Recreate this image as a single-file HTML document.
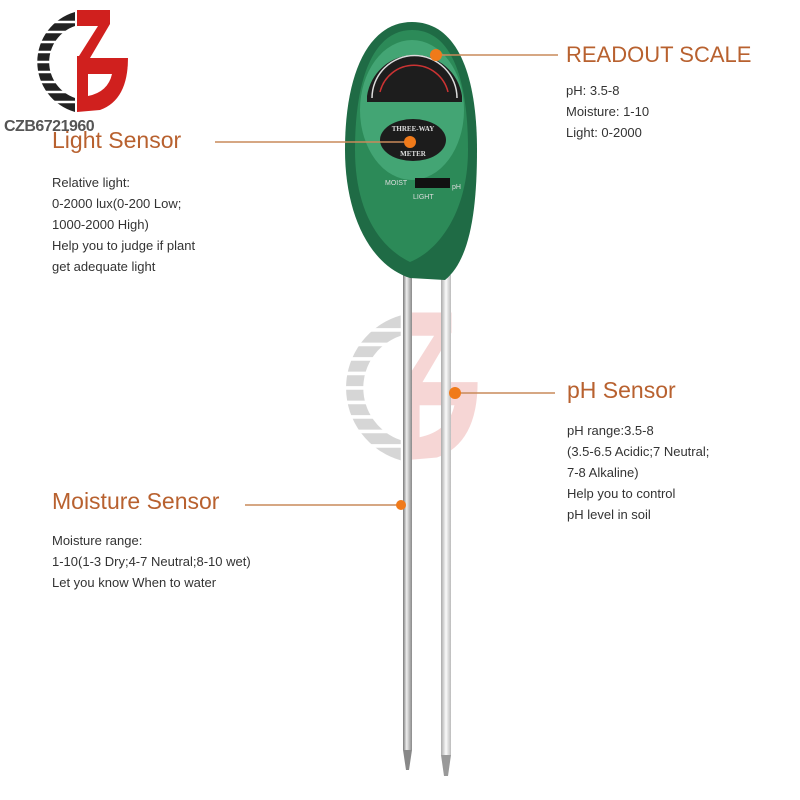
<!DOCTYPE html>
<html><head><style>
body{margin:0;width:800px;height:800px;background:#fff;position:relative;overflow:hidden;font-family:"Liberation Sans",sans-serif}
.t{position:absolute;color:#b8612f;font-size:23px;white-space:nowrap}
.p{position:absolute;color:#333;font-size:13px;line-height:21px;white-space:nowrap}
</style></head><body>
<svg width="800" height="800" style="position:absolute;left:0;top:0">
<defs>
<linearGradient id="rod" x1="0" x2="1"><stop offset="0" stop-color="#777"/><stop offset=".4" stop-color="#eee"/><stop offset="1" stop-color="#888"/></linearGradient>
<linearGradient id="rod2" x1="0" x2="1"><stop offset="0" stop-color="#aaa"/><stop offset=".5" stop-color="#fafafa"/><stop offset="1" stop-color="#bbb"/></linearGradient>
<g id="logo">
<path d="M75 12 A52 52 0 0 0 75 112 L75 98 A38 38 0 0 1 75 26 Z" fill="#222"/>
<g stroke="#fff" stroke-width="2.5">
<line x1="20" y1="22" x2="80" y2="22"/><line x1="20" y1="32" x2="80" y2="32"/><line x1="20" y1="42" x2="80" y2="42"/><line x1="20" y1="52" x2="80" y2="52"/><line x1="20" y1="62" x2="80" y2="62"/><line x1="20" y1="72" x2="80" y2="72"/><line x1="20" y1="82" x2="80" y2="82"/><line x1="20" y1="92" x2="80" y2="92"/><line x1="20" y1="102" x2="80" y2="102"/></g>
<path d="M77 10 L110 10 L110 24 L90 58 L128 58 Q128 100 100 110 L77 112 Z" fill="#d0201e"/>
<path d="M77 26 L98 26 L79 56 L77 56 Z" fill="#fff"/>
<path d="M88 74 L112 74 Q108 92 88 96 Z" fill="#fff"/>
</g>
</defs>
<use href="#logo"/>
<g opacity="0.18" transform="translate(292,298) scale(1.45)"><use href="#logo"/></g>
<!-- rods -->
<rect x="403" y="275" width="9" height="475" fill="url(#rod)"/>
<path d="M403 750 L412 750 L409 770 L406 770 Z" fill="#888"/>
<rect x="441" y="275" width="10" height="480" fill="url(#rod2)"/>
<path d="M441 755 L451 755 L448 776 L444 776 Z" fill="#999"/>
<!-- body -->
<path d="M412 22 C370 22 345 70 345 150 C345 215 370 265 410 278 L445 280 C470 260 477 210 477 150 C477 70 455 22 412 22 Z" fill="#1f6b45"/>
<path d="M412 30 C375 30 355 75 355 150 C355 205 375 245 410 262 C440 250 468 210 468 150 C468 75 450 30 412 30 Z" fill="#2c8a58"/>
<ellipse cx="412" cy="110" rx="52" ry="70" fill="#43a574"/>
<path d="M367 104 A48 48 0 0 1 462 104 L462 110 L367 110 Z" fill="#1d1d1d" transform="translate(0,-8)"/>
<path d="M372 98 A42 42 0 0 1 457 98" fill="none" stroke="#ddd" stroke-width="1.5"/>
<path d="M380 92 A35 35 0 0 1 448 92" fill="none" stroke="#c33" stroke-width="1.5"/>
<ellipse cx="413" cy="140" rx="33" ry="21" fill="#1c1c1c"/>
<text x="413" y="131" font-size="7" fill="#ddd" text-anchor="middle" font-weight="bold" font-family="Liberation Serif">THREE-WAY</text>
<text x="413" y="156" font-size="7" fill="#ddd" text-anchor="middle" font-weight="bold" font-family="Liberation Serif">METER</text>
<text x="385" y="185" font-size="7" fill="#ddd">MOIST</text>
<rect x="415" y="178" width="35" height="10" fill="#111"/>
<text x="452" y="189" font-size="7" fill="#ddd">pH</text>
<text x="413" y="199" font-size="7" fill="#ddd">LIGHT</text>
<!-- connectors -->
<g stroke="#c98a5a" stroke-width="1.5">
<line x1="436" y1="55" x2="558" y2="55"/>
<line x1="215" y1="142" x2="410" y2="142"/>
<line x1="455" y1="393" x2="555" y2="393"/>
<line x1="245" y1="505" x2="401" y2="505"/>
</g>
<g fill="#f07a1a">
<circle cx="436" cy="55" r="6"/><circle cx="410" cy="142" r="6"/>
<circle cx="455" cy="393" r="6"/><circle cx="401" cy="505" r="5"/>
</g>
</svg>
<div class="t" style="left:566px;top:42px;font-size:22px">READOUT SCALE</div>
<div class="p" style="left:566px;top:80px">pH: 3.5-8<br>Moisture: 1-10<br>Light: 0-2000</div>
<div class="t" style="left:52px;top:127px">Light Sensor</div>
<div style="position:absolute;left:4px;top:118px;font-size:16px;font-weight:bold;color:#555;letter-spacing:-0.5px;font-family:'Liberation Sans',sans-serif">CZB6721960</div>
<div class="p" style="left:52px;top:172px">Relative light:<br>0-2000 lux(0-200 Low;<br>1000-2000 High)<br>Help you to judge if plant<br>get adequate light</div>
<div class="t" style="left:567px;top:377px">pH Sensor</div>
<div class="p" style="left:567px;top:420px">pH range:3.5-8<br>(3.5-6.5 Acidic;7 Neutral;<br>7-8 Alkaline)<br>Help you to control<br>pH level in soil</div>
<div class="t" style="left:52px;top:488px">Moisture Sensor</div>
<div class="p" style="left:52px;top:530px">Moisture range:<br>1-10(1-3 Dry;4-7 Neutral;8-10 wet)<br>Let you know When to water</div>
</body></html>
